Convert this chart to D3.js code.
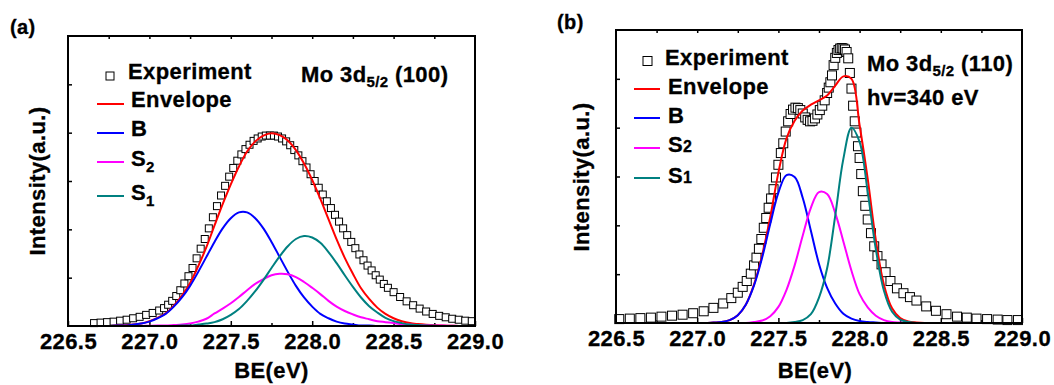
<!DOCTYPE html>
<html lang="en">
<head>
<meta charset="UTF-8" />
<title>Mo 3d5/2 fits</title>
<script src="https://cdn.jsdelivr.net/npm/d3@7"></script>
<style>
  body { margin: 0; background: #fff; }
  svg text { font-family: Arial, "Liberation Sans", sans-serif; font-weight: bold; fill: #000;
             stroke: #000; stroke-width: 0.3px; letter-spacing: 0.4px; }
</style>
</head>
<body>
<div id="wrapper"></div>
<script>
// shared axis values
const xTicks = [226.5, 227.0, 227.5, 228.0, 228.5, 229.0];
const xMinorTicks = [226.75, 227.25, 227.75, 228.25, 228.75];
const xTopTicks = [226.75, 227.0, 227.25, 227.5, 227.75, 228.0, 228.25, 228.5, 228.75];
const yTicks = [1, 2, 3, 4, 5];

// ---- panel (a): Mo 3d5/2 (100) ----
const expEnergyA = [226.66, 226.70, 226.74, 226.78, 226.82, 226.86, 226.90, 226.94, 226.98, 227.02, 227.06,
  227.09, 227.115, 227.14, 227.165, 227.19, 227.215, 227.24, 227.265, 227.29, 227.315,
  227.34, 227.365, 227.39, 227.415, 227.44, 227.465, 227.49, 227.515, 227.54, 227.565,
  227.59, 227.615, 227.64, 227.665, 227.69, 227.715, 227.74, 227.765, 227.79, 227.815,
  227.84, 227.865, 227.89, 227.915, 227.94, 227.965, 227.99, 228.015, 228.04, 228.065,
  228.09, 228.115, 228.14, 228.165, 228.19, 228.215, 228.24, 228.265, 228.29, 228.315,
  228.34, 228.365, 228.39, 228.415, 228.44, 228.465,
  228.50, 228.54, 228.58, 228.62, 228.66, 228.70, 228.74, 228.78, 228.82, 228.86, 228.90, 228.94, 228.98];
const expIntA = [0.06, 0.07, 0.08, 0.09, 0.11, 0.13, 0.16, 0.19, 0.23, 0.27, 0.32,
  0.37, 0.44, 0.52, 0.62, 0.74, 0.88, 1.03, 1.20, 1.40, 1.60,
  1.80, 2.02, 2.25, 2.48, 2.70, 2.90, 3.09, 3.27, 3.42, 3.55,
  3.66, 3.75, 3.83, 3.88, 3.92, 3.94, 3.94, 3.94, 3.92, 3.88,
  3.82, 3.74, 3.64, 3.53, 3.41, 3.28, 3.14, 3.00, 2.86, 2.72,
  2.58, 2.44, 2.30, 2.16, 2.02, 1.88, 1.74, 1.61, 1.48, 1.36,
  1.25, 1.15, 1.05, 0.96, 0.87, 0.79,
  0.70, 0.60, 0.51, 0.43, 0.36, 0.30, 0.25, 0.21, 0.18, 0.15, 0.13, 0.11, 0.10];

const fitEnergyA = [226.65, 226.70, 226.75, 226.80, 226.85, 226.90, 226.95, 227.00, 227.05, 227.10,
  227.15, 227.20, 227.25, 227.30, 227.35, 227.40, 227.45, 227.50, 227.55, 227.60,
  227.65, 227.70, 227.75, 227.80, 227.85, 227.90, 227.95, 228.00, 228.05, 228.10,
  228.15, 228.20, 228.25, 228.30, 228.35, 228.40, 228.45, 228.50, 228.55, 228.60,
  228.65, 228.70, 228.75, 228.80, 228.85, 228.90, 228.95, 229.00];
const envelopeA = [0, 0, 0, 0.01, 0.015, 0.03, 0.05, 0.10, 0.17, 0.26,
  0.42, 0.63, 0.89, 1.24, 1.63, 2.08, 2.52, 2.93, 3.30, 3.61,
  3.82, 3.94, 3.99, 3.95, 3.84, 3.64, 3.36, 3.02, 2.63, 2.21,
  1.79, 1.41, 1.08, 0.78, 0.56, 0.38, 0.25, 0.16, 0.10, 0.06,
  0.04, 0.025, 0.014, 0.01, 0.005, 0, 0, 0];
const bulkA = [0, 0, 0, 0.01, 0.01, 0.03, 0.05, 0.09, 0.16, 0.25,
  0.40, 0.59, 0.83, 1.12, 1.43, 1.74, 2.02, 2.23, 2.35, 2.35,
  2.23, 2.02, 1.74, 1.43, 1.12, 0.83, 0.59, 0.40, 0.25, 0.16,
  0.09, 0.05, 0.03, 0.01, 0.01, 0, 0, 0, 0, 0,
  0, 0, 0, 0, 0, 0, 0, 0];
const s2A = [0, 0, 0, 0, 0, 0, 0, 0.005, 0.01, 0.01,
  0.02, 0.03, 0.05, 0.09, 0.15, 0.26, 0.36, 0.47, 0.60, 0.74,
  0.87, 0.97, 1.05, 1.08, 1.07, 1.01, 0.91, 0.79, 0.66, 0.52,
  0.40, 0.31, 0.24, 0.18, 0.14, 0.10, 0.08, 0.06, 0.04, 0.03,
  0.02, 0.015, 0.01, 0.01, 0.005, 0, 0, 0];
const s1A = [0, 0, 0, 0, 0, 0, 0, 0, 0, 0,
  0, 0.01, 0.01, 0.03, 0.05, 0.08, 0.14, 0.23, 0.35, 0.52,
  0.72, 0.95, 1.20, 1.44, 1.65, 1.80, 1.86, 1.83, 1.72, 1.53,
  1.30, 1.05, 0.81, 0.59, 0.41, 0.28, 0.17, 0.10, 0.06, 0.03,
  0.02, 0.01, 0.004, 0, 0, 0, 0, 0];

// ---- panel (b): Mo 3d5/2 (110), hv = 340 eV ----
const expEnergyB = [226.52, 226.585, 226.65, 226.715, 226.78, 226.845, 226.91, 226.975, 227.04, 227.10,
  227.16, 227.21, 227.25, 227.28, 227.305, 227.33, 227.35, 227.365, 227.38, 227.395,
  227.41, 227.425, 227.44, 227.455, 227.47, 227.485, 227.50, 227.515, 227.53, 227.545,
  227.56, 227.575, 227.59, 227.605, 227.62, 227.635, 227.65, 227.665, 227.68, 227.695,
  227.71, 227.725, 227.74, 227.755, 227.77, 227.785, 227.80, 227.81, 227.82, 227.83,
  227.84, 227.85, 227.86, 227.87, 227.88, 227.89, 227.90, 227.91, 227.92, 227.93,
  227.94, 227.95, 227.96, 227.97, 227.98, 227.99, 228.00, 228.01, 228.02, 228.035,
  228.05, 228.07, 228.09, 228.11, 228.135, 228.16, 228.19, 228.23, 228.27, 228.31,
  228.35, 228.41, 228.47, 228.535, 228.60, 228.66, 228.72, 228.785, 228.85, 228.91, 228.975];
const expIntB = [0.08, 0.09, 0.10, 0.11, 0.13, 0.15, 0.17, 0.20, 0.24, 0.31,
  0.40, 0.51, 0.62, 0.74, 0.86, 1.01, 1.18, 1.34, 1.52, 1.72,
  1.95, 2.15, 2.36, 2.55, 2.74, 2.98, 3.24, 3.48, 3.68, 3.92,
  4.13, 4.28, 4.37, 4.41, 4.40, 4.36, 4.29, 4.21, 4.16, 4.13,
  4.14, 4.19, 4.27, 4.36, 4.45, 4.56, 4.71, 4.82, 4.93, 5.07,
  5.28, 5.43, 5.53, 5.59, 5.62, 5.63, 5.62, 5.60, 5.55, 5.42,
  5.12, 4.80, 4.45, 4.13, 3.90, 3.62, 3.38, 3.05, 2.70, 2.40,
  2.12, 1.84, 1.57, 1.37, 1.20, 1.04, 0.86, 0.71, 0.61, 0.53,
  0.46, 0.34, 0.25, 0.18, 0.13, 0.11, 0.09, 0.08, 0.07, 0.06, 0.06];

const fitEnergyB = [226.50, 226.55, 226.60, 226.65, 226.70, 226.75, 226.80, 226.85, 226.90, 226.95,
  227.00, 227.05, 227.10, 227.15, 227.20, 227.25, 227.30, 227.35, 227.40, 227.45,
  227.50, 227.55, 227.60, 227.65, 227.70, 227.75, 227.80, 227.85, 227.90, 227.95,
  228.00, 228.05, 228.10, 228.15, 228.20, 228.25, 228.30, 228.35, 228.40, 228.45,
  228.50, 228.55, 228.60, 228.65, 228.70, 228.75, 228.80, 228.85, 228.90, 228.95, 229.00];
const envelopeB = [0, 0, 0, 0, 0, 0, 0, 0, 0, 0,
  0, 0, 0.01, 0.02, 0.06, 0.16, 0.38, 0.79, 1.39, 2.17,
  3.08, 3.78, 4.14, 4.35, 4.47, 4.56, 4.66, 4.86, 5.05, 5.00,
  4.05, 2.95, 1.70, 0.78, 0.30, 0.10, 0.03, 0.01, 0, 0,
  0, 0, 0, 0, 0, 0, 0, 0, 0, 0, 0];
const bulkB = [0, 0, 0, 0, 0, 0, 0, 0, 0, 0,
  0, 0, 0.01, 0.02, 0.06, 0.16, 0.38, 0.77, 1.34, 2.03,
  2.67, 3.03, 2.99, 2.56, 1.89, 1.21, 0.72, 0.40, 0.19, 0.09,
  0.04, 0.02, 0.01, 0, 0, 0, 0, 0, 0, 0,
  0, 0, 0, 0, 0, 0, 0, 0, 0, 0, 0];
const s2B = [0, 0, 0, 0, 0, 0, 0, 0, 0, 0,
  0, 0, 0, 0, 0, 0, 0, 0.02, 0.05, 0.14,
  0.33, 0.68, 1.18, 1.79, 2.36, 2.68, 2.64, 2.25, 1.67, 1.07,
  0.59, 0.32, 0.15, 0.06, 0.02, 0.01, 0, 0, 0, 0,
  0, 0, 0, 0, 0, 0, 0, 0, 0, 0, 0];
const s1B = [0, 0, 0, 0, 0, 0, 0, 0, 0, 0,
  0, 0, 0, 0, 0, 0, 0, 0, 0, 0,
  0, 0, 0.02, 0.06, 0.18, 0.52, 1.12, 2.20, 3.36, 4.00,
  3.71, 2.68, 1.51, 0.66, 0.23, 0.07, 0.02, 0, 0, 0,
  0, 0, 0, 0, 0, 0, 0, 0, 0, 0, 0];

const colors = { envelope: "#ff0000", bulk: "#0000ff", s2: "#ff00ff", s1: "#008080" };

const svg = d3.select("#wrapper").append("svg")
  .attr("width", 1054)
  .attr("height", 385);

function drawPanel(p) {
  const xScale = d3.scaleLinear().domain([226.5, 229.0]).range([p.left, p.right]);
  const yScale = d3.scaleLinear().domain([0, 6]).range([p.bottom, p.top]);
  const g = svg.append("g");

  // axes (ticks point inward)
  const bottomAxis = g.append("g")
    .attr("transform", `translate(0,${p.bottom})`)
    .call(d3.axisBottom(xScale).tickValues(xTicks).tickSizeInner(-5).tickSizeOuter(0)
      .tickPadding(7).tickFormat(d3.format(".1f")));
  bottomAxis.attr("font-size", 22).attr("font-family", null);
  g.append("g")
    .attr("transform", `translate(0,${p.bottom})`)
    .call(d3.axisBottom(xScale).tickValues(xMinorTicks).tickSizeInner(-3).tickSizeOuter(0).tickFormat(""));
  g.append("g")
    .attr("transform", `translate(0,${p.top})`)
    .call(d3.axisTop(xScale).tickValues(xTopTicks).tickSizeInner(-3).tickSizeOuter(0).tickFormat(""));
  g.append("g")
    .attr("transform", `translate(${p.left},0)`)
    .call(d3.axisLeft(yScale).tickValues(yTicks).tickSizeInner(-4).tickSizeOuter(0).tickFormat(""));
  g.selectAll(".domain").remove();
  g.selectAll(".tick line").attr("stroke-width", 1.5);

  // experiment squares
  const pts = p.expE.map((e, i) => ({ e: e, v: p.expV[i] }));
  g.append("g").selectAll("rect")
    .data(pts)
    .join("rect")
    .attr("x", d => xScale(d.e) - p.sq / 2)
    .attr("y", d => yScale(d.v) - p.sq / 2)
    .attr("width", p.sq)
    .attr("height", p.sq)
    .attr("fill", "#fff")
    .attr("stroke", "#000")
    .attr("stroke-width", 1);

  // fitted components
  const line = d3.line()
    .x((d, i) => xScale(p.fitE[i]))
    .y(d => yScale(d))
    .curve(d3.curveCatmullRom.alpha(0.5));
  [["envelope", p.env], ["bulk", p.bulk], ["s2", p.s2], ["s1", p.s1]].forEach(([k, vals]) => {
    g.append("path")
      .attr("d", line(vals))
      .attr("fill", "none")
      .attr("stroke", colors[k])
      .attr("stroke-width", 2);
  });

  // frame
  g.append("rect")
    .attr("x", p.left).attr("y", p.top)
    .attr("width", p.right - p.left).attr("height", p.bottom - p.top)
    .attr("fill", "none").attr("stroke", "#000").attr("stroke-width", 2);

  // titles
  g.append("text")
    .attr("x", (p.left + p.right) / 2 + p.xTitleShift).attr("y", 378)
    .attr("text-anchor", "middle").attr("font-size", 22)
    .text("BE(eV)");
  g.append("text")
    .attr("transform", `translate(${p.yTitleX},${p.yTitleY}) rotate(-90)`)
    .attr("text-anchor", "middle").attr("font-size", 22)
    .text("Intensity(a.u.)");
  g.append("text")
    .attr("x", p.tagX).attr("y", p.tagY).attr("font-size", 20)
    .text(p.tag);

  // legend
  const lg = p.legend;
  g.append("rect")
    .attr("x", lg.markX - lg.markSize / 2).attr("y", lg.markY - lg.markSize / 2)
    .attr("width", lg.markSize).attr("height", lg.markSize)
    .attr("fill", "#fff").attr("stroke", "#000").attr("stroke-width", 1);
  g.append("text").attr("x", lg.expTextX).attr("y", lg.expTextY).attr("font-size", 22).text("Experiment");
  const items = [
    { key: "envelope", name: "Envelope", sub: "" },
    { key: "bulk", name: "B", sub: "" },
    { key: "s2", name: "S", sub: "2" },
    { key: "s1", name: "S", sub: "1" }
  ];
  items.forEach((it, i) => {
    g.append("line")
      .attr("x1", lg.lineX1).attr("x2", lg.lineX2)
      .attr("y1", lg.lineY[i]).attr("y2", lg.lineY[i])
      .attr("stroke", colors[it.key]).attr("stroke-width", 2);
    const t = g.append("text").attr("x", lg.textX).attr("y", lg.textY[i]).attr("font-size", 22);
    t.append("tspan").text(it.name);
    if (it.sub) {
      t.append("tspan").attr("font-size", lg.subSize).attr("dy", lg.subDy).text(it.sub);
    }
  });

  // annotation
  const ann = g.append("text").attr("x", p.annX).attr("y", p.annY).attr("font-size", 22);
  ann.append("tspan").text("Mo 3d");
  ann.append("tspan").attr("font-size", 15).attr("dy", 5).text("5/2");
  ann.append("tspan").attr("x", p.annX + 94).attr("dy", -5).text(p.annFace);
  if (p.annLine2) {
    g.append("text").attr("x", p.annX).attr("y", p.annY + 34).attr("font-size", 22).text(p.annLine2);
  }
}

drawPanel({
  left: 68, right: 475, top: 36, bottom: 326,
  expE: expEnergyA, expV: expIntA, sq: 7,
  fitE: fitEnergyA, env: envelopeA, bulk: bulkA, s2: s2A, s1: s1A,
  xTitleShift: 0, yTitleX: 45, yTitleY: 181,
  tag: "(a)", tagX: 10, tagY: 34,
  legend: {
    markX: 110, markY: 76, markSize: 8, expTextX: 128, expTextY: 79,
    lineX1: 97, lineX2: 124, lineY: [104, 133, 162, 196],
    textX: 131, textY: [107, 136, 166, 200], subSize: 15, subDy: 6
  },
  annX: 301, annY: 82, annFace: "(100)", annLine2: null
});

drawPanel({
  left: 616, right: 1022, top: 30, bottom: 323,
  expE: expEnergyB, expV: expIntB, sq: 9,
  fitE: fitEnergyB, env: envelopeB, bulk: bulkB, s2: s2B, s1: s1B,
  xTitleShift: -4, yTitleX: 589, yTitleY: 177,
  tag: "(b)", tagX: 557, tagY: 29,
  legend: {
    markX: 647.5, markY: 61, markSize: 9, expTextX: 665, expTextY: 65,
    lineX1: 634, lineX2: 660, lineY: [89, 118, 148, 178],
    textX: 668, textY: [94, 123, 152, 183], subSize: 16, subDy: 0
  },
  annX: 867, annY: 71, annFace: "(110)", annLine2: "hv=340 eV"
});
</script>
</body>
</html>
